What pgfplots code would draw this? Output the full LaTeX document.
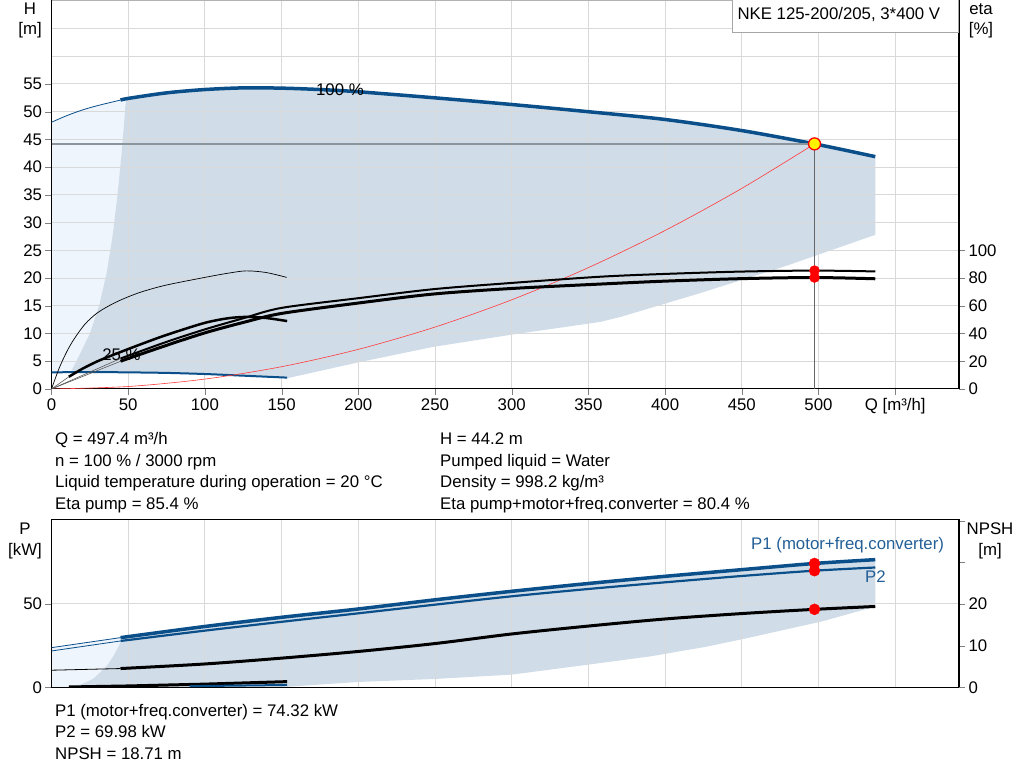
\documentclass[border=0pt]{standalone}
\usepackage{pgfplots}
\pgfplotsset{compat=1.18}
\usepackage{fontspec}
\setmainfont{Liberation Sans}
\definecolor{cblue}{HTML}{0B4F8A}
\definecolor{cgray}{HTML}{D0DCE8}
\definecolor{clight}{HTML}{EEF5FC}
\definecolor{cgrid}{HTML}{D9D9D9}
\definecolor{ctxt}{HTML}{245F96}
\definecolor{cref}{HTML}{8C959C}
\definecolor{cred}{HTML}{FF3B3B}
\newcommand{\fs}{\fontsize{16.8bp}{20bp}\selectfont}
\begin{document}
\begin{tikzpicture}[x=1bp,y=1bp,font=\fs]
\pgfplotsset{
  base/.style={
    width=907.5bp, scale only axis,
    xmin=0, xmax=591.6,
    tick align=outside, major tick length=6bp,
    tick label style={font=\fs},
    /pgf/number format/assume math mode=true,
  },
  top/.style={base, height=389bp, at={(51.5bp,392bp)}, anchor=south west},
  bot/.style={base, height=167.3bp, at={(51.5bp,93.7bp)}, anchor=south west},
}
% ================= TOP CHART =================
% fills
\begin{axis}[top, ymin=0, ymax=70.15, hide axis]
\addplot[fill=clight, draw=none] coordinates {
 (0,3.0) (0,48.1) (10,49.3) (20,50.3) (30,51.1) (45,52.1) (48.5,52.3)
 (47,47) (45.5,42) (43,35) (40,28) (36,21) (31,15) (25,10) (18,6) (13,3.3)} -- cycle;
\addplot[fill=cgray, draw=none] coordinates {
 (48.5,52.3) (50,52.4) (60,52.85) (75,53.4) (100,54.0) (125,54.3) (150,54.25) (175,54.0) (200,53.6)
 (225,53.07) (250,52.5) (275,51.9) (300,51.3) (325,50.67) (350,50.0) (375,49.33) (400,48.6) (425,47.65) (450,46.6)
 (475,45.4) (497.4,44.2) (515,43.1) (537,41.9)
 (537,27.8) (480,22.3) (423,17.3) (371,13.0) (358,12.1) (300,9.8) (249,7.6) (200,4.8) (153.6,1.93)
 (125,2.4) (100,2.7) (50,3.0) (13,3.3)
 (18,6) (25,10) (31,15) (36,21) (40,28) (43,35) (45.5,42) (47,47)} -- cycle;
\end{axis}
% H axis
\begin{axis}[top, ymin=0, ymax=70.15,
  axis x line*=bottom, axis y line*=left,
  axis line style={black, line width=1bp},
  xtick={0,50,...,550},
  xticklabels={0,50,100,150,200,250,300,350,400,450,500,{Q [m³/h]}},
  ytick={0,5,...,55},
  extra y ticks={60,65}, extra y tick labels={},
  extra y tick style={major tick length=0pt},
  grid=major, grid style={cgrid, line width=1bp},
  clip=true]
% 25 % speed head curve
\addplot[cblue, line width=2bp, smooth] coordinates {(0,3.0) (25,3.05) (50,3.0) (75,2.9) (100,2.7) (125,2.4) (153.6,2.05)};
% 100 % speed head curve
\addplot[cblue, line width=0.8bp, smooth] coordinates {(0,48.1) (10,49.3) (20,50.3) (30,51.1) (45,52.1)};
\addplot[cblue, line width=3.5bp, smooth] coordinates {(45,52.1) (50,52.4) (75,53.4) (100,54.0) (125,54.3) (150,54.25) (175,54.0) (200,53.6)
 (250,52.5) (300,51.3) (350,50.0) (400,48.6) (450,46.6) (497.4,44.2) (537,41.9)};
% system curve
\addplot[cred, line width=0.6bp, smooth] coordinates {(0,0) (50,0.447) (100,1.787) (150,4.02) (200,7.146) (250,11.166) (300,16.079) (350,21.886) (400,28.586) (450,36.179) (497.4,44.2)};
% duty point lines
\addplot[cref, line width=1.5bp] coordinates {(0,44.2) (497.4,44.2)};
\addplot[black!60, line width=1bp] coordinates {(497.4,44.2) (497.4,0)};
\node at (axis cs:188,53.9) {100 \%};
\node at (axis cs:45.6,6.1) {25 \%};
\end{axis}
% eta axis
\begin{axis}[top, ymin=0, ymax=280.6,
  axis x line=none, axis y line*=right,
  y axis line style={black, line width=2bp},
  ytick={0,20,...,100}, clip=true]
\addplot[black!65, line width=0.6bp] coordinates {(0,0) (45,22)};
\addplot[black!65, line width=0.6bp] coordinates {(0,0) (45,20)};
\addplot[black!65, line width=0.6bp] coordinates {(0,0) (11.3,8.8)};
\addplot[black, line width=0.7bp, smooth] coordinates {(0,0) (5,15) (10,27) (15,36.5) (22,47) (30,55) (40,61.5) (50,66.5) (60,70.5) (75,75) (100,80.5) (115,83.5) (127,85.2) (140,84) (153.3,80.5)};
\addplot[black, line width=2.5bp, smooth] coordinates {(11.3,8.8) (20,14.5) (30,20) (40,24.5) (49.3,28.5) (60,33) (75,39) (99.3,47.5) (115,51) (127.6,52) (140,51.2) (153.6,49)};
\addplot[black, line width=2bp, smooth] coordinates {(45,22) (50,24) (75,34) (100,43) (125,51) (150,58.5) (200,65.5) (249,72) (300,76.5) (358,81) (400,83) (450,84.7) (497.4,85.4) (537,84.8)};
\addplot[black, line width=3bp, smooth] coordinates {(45,20) (50,22) (75,31.5) (100,40.5) (125,48) (150,54.5) (200,62) (249,68.5) (300,72.5) (358,75.7) (400,77.8) (450,79.6) (497.4,80.4) (537,79.5)};
\addplot[only marks, mark=*, mark size=5bp, red] coordinates {(497.4,85.4) (497.4,80.4)};
\end{axis}
% duty point marker
\begin{axis}[top, ymin=0, ymax=70.15, hide axis, clip=false]
\addplot[only marks, mark=*, mark size=6bp, mark options={fill=yellow, draw=red, line width=1.3bp}] coordinates {(497.4,44.2)};
\end{axis}
\draw[gray!60, line width=1bp] (51.5,780.5) -- (958,780.5);
\draw[gray!70, fill=white, line width=1bp] (732,748) rectangle (958,781.5);
\node[anchor=base west, inner sep=0] at (737.3,761.7) {NKE 125-200/205, 3*400 V};
\node[anchor=base, inner sep=0] at (30,766) {H};
\node[anchor=base, inner sep=0] at (30,746) {[m]};
\node[anchor=base, inner sep=0] at (981,766) {eta};
\node[anchor=base, inner sep=0] at (981,746) {[\%]};
% info text
\node[anchor=base west, inner sep=0] at (55,336) {Q = 497.4 m³/h};
\node[anchor=base west, inner sep=0] at (55,314.5) {n = 100 \% / 3000 rpm};
\node[anchor=base west, inner sep=0] at (55,293) {Liquid temperature during operation = 20 °C};
\node[anchor=base west, inner sep=0] at (55,271.5) {Eta pump = 85.4 \%};
\node[anchor=base west, inner sep=0] at (440,336) {H = 44.2 m};
\node[anchor=base west, inner sep=0] at (440,314.5) {Pumped liquid = Water};
\node[anchor=base west, inner sep=0] at (440,293) {Density = 998.2 kg/m³};
\node[anchor=base west, inner sep=0] at (440,271.5) {Eta pump+motor+freq.converter = 80.4 \%};
% ================= BOTTOM CHART =================
\begin{axis}[bot, ymin=0, ymax=100.4, hide axis]
\addplot[fill=clight, draw=none] coordinates {
 (0,0) (0,23.8) (45,29.8) (46.5,30.3) (44,25) (40.6,19.2) (37,14) (32,9.2) (27,5) (20,2) (11,0)} -- cycle;
\addplot[fill=cgray, draw=none] coordinates {
 (46.5,30.3) (50,31) (100,36.5) (150,42) (200,47) (250,52.5) (300,57.6) (350,62.3) (400,66.6) (450,70.6) (497.4,74.3) (537,76.6)
 (537,48.5) (502.6,39.6) (452,29.2) (426,24.2) (390,18.5) (350,13.6) (300,7.6) (250,5.0) (200,3.2) (153.6,0.3) (11,0)
 (20,2) (27,5) (32,9.2) (37,14) (40.6,19.2) (44,25)} -- cycle;
\end{axis}
\begin{axis}[bot, ymin=0, ymax=100.4,
  axis line style={black, line width=1bp},
  xtick={0,50,...,550}, xticklabels={}, xtick style={draw=none},
  ytick={0,50}, ytick pos=left,
  grid=major, grid style={cgrid, line width=1bp}, clip=true]
\addplot[black, line width=3bp] coordinates {(11.3,0.2) (50,0.8) (100,1.9) (153.6,3.4)};
\addplot[cblue, line width=2bp] coordinates {(90,0.7) (120,1.0) (153.6,1.4)};
\addplot[cblue, line width=0.8bp] coordinates {(0,23.8) (45,29.8)};
\addplot[cblue, line width=0.8bp] coordinates {(0,21.8) (45,27.8)};
\addplot[cblue, line width=3.5bp, smooth] coordinates {(45,29.8) (100,36.5) (150,42) (200,47) (250,52.5) (300,57.6) (350,62.3) (400,66.6) (450,70.6) (497.4,74.32) (537,76.6)};
\addplot[cblue, line width=2.2bp, smooth] coordinates {(45,27.8) (100,34) (150,39.3) (200,44.4) (250,49.6) (300,54.6) (350,59) (400,63) (450,66.8) (497.4,69.98) (537,71.9)};
\addplot[only marks, mark=*, mark size=5.5bp, red] coordinates {(497.4,74.32) (497.4,69.98)};
\end{axis}
\begin{axis}[bot, ymin=0, ymax=40.16,
  axis x line=none, axis y line*=right,
  y axis line style={black, line width=2bp},
  ytick={0,10,20,30,40}, yticklabels={0,10,20,,}, clip=true]
\addplot[black, line width=0.8bp] coordinates {(0,4.1) (45,4.5)};
\addplot[black, line width=3bp, smooth] coordinates {(45,4.5) (100,5.6) (150,7.0) (200,8.6) (250,10.5) (300,12.8) (350,14.7) (400,16.4) (450,17.7) (497.4,18.71) (537,19.4)};
\addplot[only marks, mark=*, mark size=5.5bp, red] coordinates {(497.4,18.71)};
\end{axis}
\node[anchor=base west, inner sep=0, text=ctxt] at (751,231) {P1 (motor+freq.converter)};
\node[anchor=base west, inner sep=0, text=ctxt] at (865,198.7) {P2};
\node[anchor=base, inner sep=0] at (25,246) {P};
\node[anchor=base, inner sep=0] at (25,225.5) {[kW]};
\node[anchor=base, inner sep=0] at (990,246) {NPSH};
\node[anchor=base, inner sep=0] at (990,225.5) {[m]};
\node[anchor=base west, inner sep=0] at (55,64) {P1 (motor+freq.converter) = 74.32 kW};
\node[anchor=base west, inner sep=0] at (55,43) {P2 = 69.98 kW};
\node[anchor=base west, inner sep=0] at (55,21.5) {NPSH = 18.71 m};
\pgfresetboundingbox
\useasboundingbox (0,0) rectangle (1024,781);
\end{tikzpicture}
\end{document}
